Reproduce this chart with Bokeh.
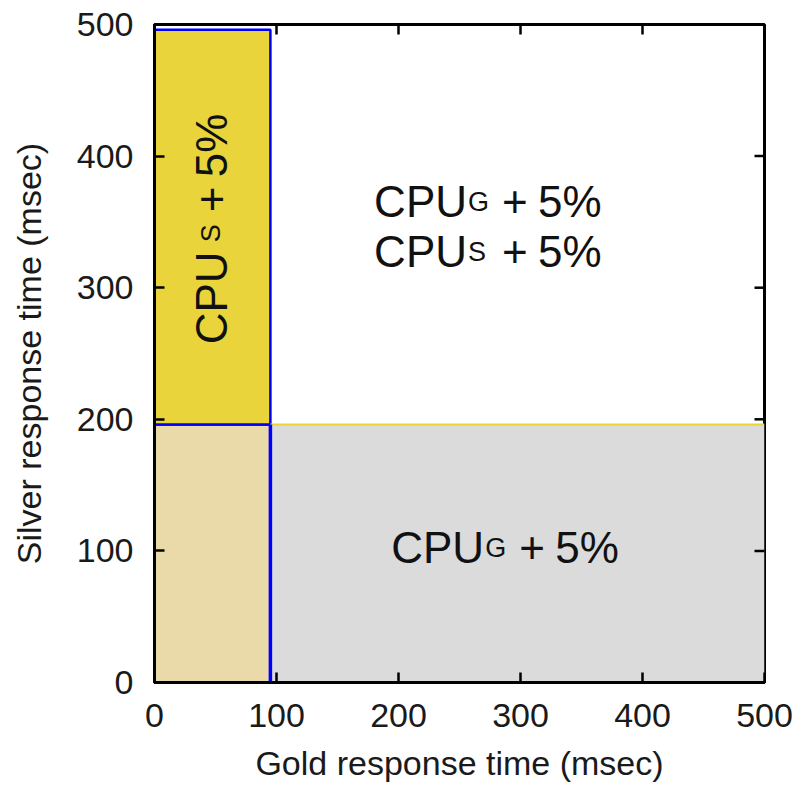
import math
from bokeh.plotting import figure
from bokeh.models import Range1d, FixedTicker, Label
from bokeh.embed import file_html
from bokeh.resources import INLINE

# ---- data ----
x_ticks = [0, 100, 200, 300, 400, 500]
y_ticks = [0, 100, 200, 300, 400, 500]
x_max = 500
y_max = 500
gold_threshold = 95      # msec
silver_threshold = 196   # msec
silver_top = 496         # msec

region_left = [0, 0, gold_threshold]
region_right = [gold_threshold, gold_threshold, x_max]
region_bottom = [0, silver_threshold, 0]
region_top = [silver_threshold, silver_top, silver_threshold]
region_fill = ["#EAD9A9", "#E9D53B", "#DBDBDB"]

# text annotations: (subscript letter, x, y of text start)
text_lines = [("G", 180, 365.5), ("S", 180, 327.5), ("G", 194, 102.5)]
rot_text = ("S", 46.5, 257)

FONT = "Liberation Sans"
MAIN = "44px"
SUB = "27px"

p = figure(frame_width=610, frame_height=658,
           x_range=Range1d(0, x_max), y_range=Range1d(0, y_max),
           output_backend="svg", toolbar_location=None,
           min_border_left=154, min_border_top=24, min_border_right=30,
           min_border_bottom=40, background_fill_color="white",
           border_fill_color="white")
p.xgrid.visible = False
p.ygrid.visible = False
p.outline_line_color = "black"
p.outline_line_width = 3

# regions
p.quad(left=region_left[:1], right=region_right[:1], bottom=region_bottom[:1], top=region_top[:1],
       fill_color=region_fill[0], line_color="#0000FF", line_width=2.5)
p.quad(left=region_left[1:2], right=region_right[1:2], bottom=region_bottom[1:2], top=region_top[1:2],
       fill_color=region_fill[1], line_color="#0000FF", line_width=2.5)
p.quad(left=region_left[2:], right=region_right[2:], bottom=region_bottom[2:], top=region_top[2:],
       fill_color=region_fill[2], line_color=None)
# yellow top edge of grey region, olive bottom edge
p.segment(x0=[gold_threshold], y0=[silver_threshold], x1=[x_max], y1=[silver_threshold],
          line_color="#E8D53A", line_width=2)
p.segment(x0=[gold_threshold], y0=[0], x1=[x_max], y1=[0],
          line_color="#6E6A2A", line_width=3)
# thicker blue vertical at gold threshold (lower part)
p.segment(x0=[gold_threshold], y0=[0], x1=[gold_threshold], y1=[silver_threshold],
          line_color="#0000FF", line_width=3.5)

# mirrored inner ticks on top and right edges (clipped to the frame)
p.scatter(x=x_ticks, y=[y_max] * len(x_ticks), marker="dash", angle=math.pi / 2,
          size=20, line_color="black", line_width=2.5)
p.scatter(x=[x_max] * len(y_ticks), y=y_ticks, marker="dash",
          size=20, line_color="black", line_width=2.5)

for ax, ticks in ((p.xaxis[0], x_ticks), (p.yaxis[0], y_ticks)):
    ax.ticker = FixedTicker(ticks=ticks)
    ax.axis_line_color = "black"
    ax.axis_line_width = 3
    ax.major_tick_in = 10
    ax.major_tick_out = 0
    ax.major_tick_line_width = 2.5
    ax.major_tick_line_color = "black"
    ax.minor_tick_line_color = None
    ax.major_label_text_font = FONT
    ax.major_label_text_font_size = "34px"
    ax.major_label_text_color = "#1a1a1a"
    ax.axis_label_text_font = FONT
    ax.axis_label_text_font_size = "34px"
    ax.axis_label_text_font_style = "normal"
    ax.axis_label_text_color = "#1a1a1a"

p.xaxis[0].axis_label = "Gold response time (msec)"
p.yaxis[0].axis_label = "Silver response time (msec)"
p.xaxis[0].major_label_standoff = 21
p.xaxis[0].axis_label_standoff = 14
p.yaxis[0].major_label_standoff = 21
p.yaxis[0].axis_label_standoff = 26

# horizontal labels with small subscript letters
for sub, x, y in text_lines:
    pieces = [("CPU", 0, MAIN), (sub, 94, SUB), ("+", 128, MAIN), ("5%", 164, MAIN)]
    for txt, off, size in pieces:
        p.add_layout(Label(x=x, y=y, x_offset=off, y_offset=0, text=txt,
                           text_font=FONT, text_font_size=size, text_color="#111111",
                           text_align="left", text_baseline="alphabetic"))

# rotated label in yellow region
sub, x, y = rot_text
for txt, off, size in [("CPU", 0, MAIN), (sub, 102, SUB), ("+", 132, MAIN), ("5%", 167, MAIN)]:
    p.add_layout(Label(x=x, y=y, x_offset=0, y_offset=off, text=txt, angle=math.pi / 2,
                       text_font=FONT, text_font_size=size, text_color="#111111",
                       text_align="left", text_baseline="alphabetic"))

open("out.html", "w").write(file_html(p, INLINE))
